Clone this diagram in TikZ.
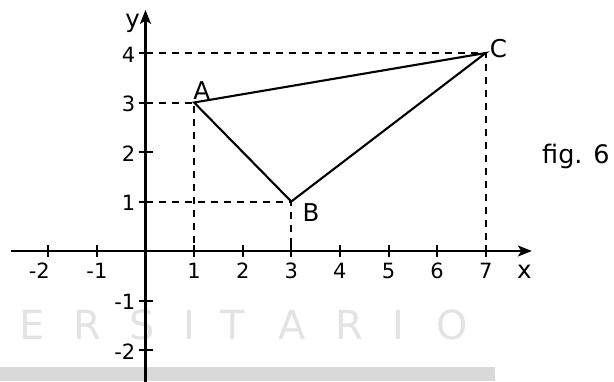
\documentclass[tikz,border=0pt]{standalone}
\usepackage{fontspec}
\setmainfont{DejaVu Sans}
\usetikzlibrary{arrows.meta}
\begin{document}
\begin{tikzpicture}[x=1pt,y=-1pt,
  axis/.style={line width=2.2pt, -{Stealth[length=14pt,width=11pt,inset=3.5pt]}},
  tri/.style={line width=2.1pt, line join=miter},
  guide/.style={line width=2pt, dash pattern=on 7pt off 6pt},
  tickmark/.style={line width=2pt},
  ticklbl/.style={inner sep=0pt, font=\fontsize{21}{23}\selectfont},
  ptlbl/.style={inner sep=0pt, font=\fontsize{24.5}{26}\selectfont},
  wm/.style={inner sep=0pt, text=black!11, font=\fontsize{40}{42}\selectfont}]
\useasboundingbox (0,0) rectangle (614,381);
\fill[black!15] (0,367) rectangle (495,381);
\foreach \c/\xx in {E/32,R/87,S/142,I/189,T/233,A/292,R/349,I/398,O/452}
  \node[wm] (w\xx) at (\xx,325) {\c};
\node[anchor=base west, inner sep=0pt, font=\fontsize{25.5}{27}\selectfont] (fig) at (542,163) {fig. 6};
\begin{scope}[shift={(145.5,251)}, x=48.6pt, y=49.5pt]
  \coordinate (O) at (0,0);
  \coordinate (xs) at (-2.77,0);
  \coordinate (xe) at (7.95,0);
  \coordinate (ys) at (0,-2.7);
  \coordinate (ye) at (0,4.87);
  \coordinate (A) at (1,3);
  \coordinate (B) at (3,1);
  \coordinate (C) at (7,4);
  \coordinate (yA) at (0,3);
  \coordinate (xA) at (1,0);
  \coordinate (yB) at (0,1);
  \coordinate (xB) at (3,0);
  \coordinate (yC) at (0,4);
  \coordinate (xC) at (7,0);
  % guides
  \draw[guide] (yC) -- (C) -- (xC);
  \draw[guide] (yA) -- (A) -- (xA);
  \draw[guide] (yB) -- (B) -- (xB);
  % axes
  \draw[axis] (xs) -- (xe);
  \draw[axis] (ys) -- (ye);
  % ticks
  \foreach \i in {-2,-1,1,2,3,4,5,6,7}
    \draw[tickmark] (\i,0) ++(0,6pt) -- ++(0,-12pt);
  \foreach \i in {-1,1,2,3,4,5,6,7}
    \path (\i,0) ++(0,-27pt) node[ticklbl, anchor=base] (tx\i) {\i};
  \path (-2,0) ++(-9pt,-27pt) node[ticklbl, anchor=base] (tx-2) {-2};
  \foreach \j in {-2,-1,1,2,3,4}
    \draw[tickmark] (0,\j) ++(-7pt,0) -- ++(14pt,0);
  \foreach \j in {-2,-1,1,2,3,4}
    \path (0,\j) ++(-10pt,-9pt) node[ticklbl, anchor=base east] (ty\j) {\j};
  % triangle
  \draw[tri] (A) -- (B) -- (C) -- cycle;
  % labels
  \node[ptlbl, anchor=base west] (lA) at ([xshift=-1pt,yshift=3pt]A) {A};
  \node[ptlbl, anchor=base west] (lB) at ([xshift=11pt,yshift=-20pt]B) {B};
  \node[ptlbl, anchor=base west] (lC) at ([xshift=4pt,yshift=-4pt]C) {C};
  \node[ptlbl, anchor=base west] (lx) at ([xshift=-15pt,yshift=-27pt]xe) {x};
  \node[ptlbl, anchor=base] (ly) at ([xshift=-13pt,yshift=-18pt]ye) {y};
\end{scope}
\end{tikzpicture}
\end{document}
